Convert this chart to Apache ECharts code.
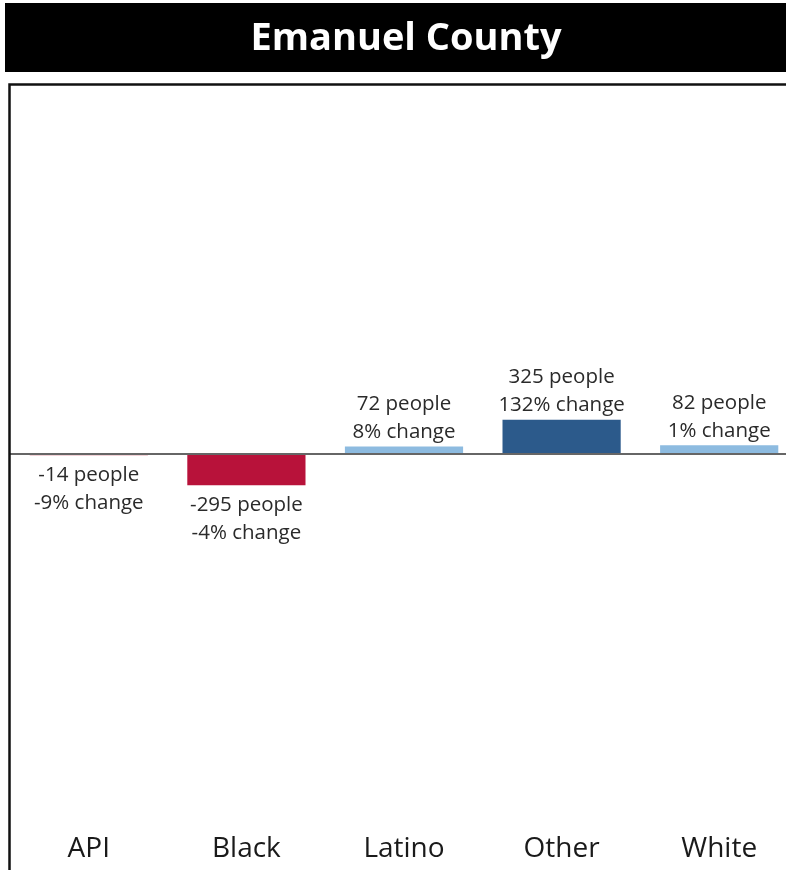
<!DOCTYPE html>
<html>
<head>
<meta charset="utf-8">
<script src="https://cdn.jsdelivr.net/npm/echarts@6/dist/echarts.min.js"></script>
<style>
  html, body { margin: 0; padding: 0; background: #fff; }
  #chart { width: 786px; height: 870px; }
</style>
</head>
<body>
<div id="chart"></div>
<script>
"use strict";

var categories = ['API', 'Black', 'Latino', 'Other', 'White'];
var peopleChange = [-14, -295, 72, 325, 82];
var pctChange = [-9, -4, 8, 132, 1];
var barColors = ['#e5a3ad', '#b8123a', '#8dbbe0', '#2c5a8b', '#8dbbe0'];

var myChart = echarts.init(document.getElementById('chart'));

var seriesData = peopleChange.map(function (v, i) {
    return {
        value: v,
        itemStyle: { color: barColors[i] },
        label: { position: v < 0 ? 'bottom' : 'top', distance: v < 0 ? 6 : 0 }
    };
});

var option = {
    animation: false,
    graphic: [
        // title bar
        { type: 'rect', left: 5, top: 3, shape: { width: 800, height: 69 }, style: { fill: '#000' }, z: 10 },
        {
            type: 'text', x: 406, y: 39, z: 11,
            style: {
                text: 'Emanuel County', fill: '#fff', font: 'bold 38px "Open Sans"',
                textAlign: 'center', textVerticalAlign: 'middle'
            }
        },
        // border round the chart
        { type: 'rect', left: 7, top: 82, shape: { width: 820, height: 820 }, style: { fill: 'none', stroke: '#111', lineWidth: 2.5 }, z: 10 }
    ],
    grid: { left: 10, top: 84, width: 788, height: 740, outerBoundsMode: 'none', containLabel: false },
    xAxis: {
        type: 'category',
        data: categories,
        axisLine: { show: false },
        axisTick: { show: false },
        axisLabel: { fontSize: 28, color: '#1a1a1a', fontFamily: 'Open Sans', margin: 11 }
    },
    yAxis: {
        type: 'value',
        min: -3500,
        max: 3500,
        show: false,
        splitLine: { show: false }
    },
    series: [
        {
            name: 'change',
            type: 'bar',
            barWidth: '75%',
            data: seriesData,
            label: {
                show: true,
                fontSize: 20.5,
                lineHeight: 28,
                color: '#2a2a2a',
                fontFamily: 'Open Sans',
                formatter: function (p) {
                    return p.value + ' people\n' + pctChange[p.dataIndex] + '% change';
                }
            },
            markLine: {
                silent: true,
                symbol: 'none',
                label: { show: false },
                lineStyle: { color: '#666', width: 2, type: 'solid' },
                data: [{ yAxis: 0 }]
            }
        }
    ]
};

myChart.setOption(option);
</script>
</body>
</html>
